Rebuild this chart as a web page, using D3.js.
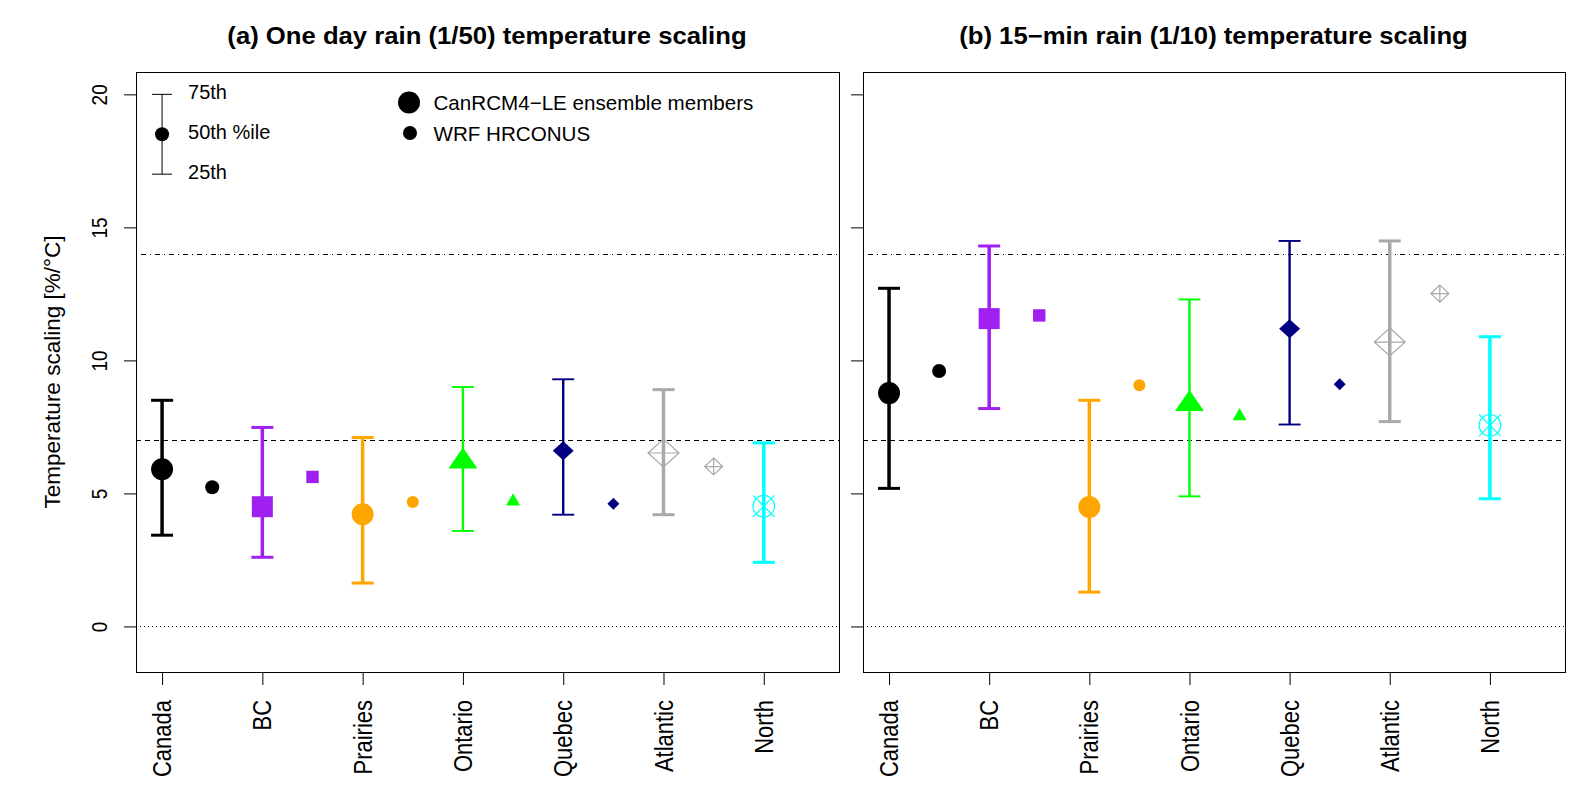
<!DOCTYPE html>
<html><head><meta charset="utf-8">
<script src="https://cdn.jsdelivr.net/npm/d3@7"></script>
<style>
body{margin:0;background:#fff}
svg{display:block}
text{font-family:"Liberation Sans",Arial,Helvetica,sans-serif;fill:#000}
</style>
</head><body>
<svg id="c" width="1592" height="801"></svg>
<script>
// ---------- data ----------
const categories = ["Canada","BC","Prairies","Ontario","Quebec","Atlantic","North"];
// panel (a) One day rain (1/50)
const p25A = [3.43, 2.60, 1.63, 3.59, 4.20, 4.20, 2.41];
const p50A = [5.91, 4.50, 4.22, 6.20, 6.60, 6.52, 4.52];
const p75A = [8.50, 7.48, 7.10, 9.00, 9.29, 8.90, 6.90];
const wrfA = [5.23, 5.62, 4.68, 4.70, 4.61, 6.01, null];
// panel (b) 15-min rain (1/10)
const p25B = [5.19, 8.19, 1.29, 4.89, 7.59, 7.70, 4.80];
const p50B = [8.77, 11.57, 4.49, 8.36, 11.19, 10.69, 7.56];
const p75B = [12.71, 14.30, 8.50, 12.29, 14.49, 14.49, 10.89];
const wrfB = [9.60, 11.69, 9.07, 7.90, 9.10, 12.51, null];
const yTicks = [0, 5, 10, 15, 20];
const refLines = [0, 7, 14];
const titles = ["(a) One day rain (1/50) temperature scaling",
                "(b) 15\u2212min rain (1/10) temperature scaling"];
const yLabel = "Temperature scaling [%/\u00B0C]";
const legendPct = ["75th", "50th %ile", "25th"];
const legendPctVals = [20, 18.5, 17];
const legendModels = ["CanRCM4\u2212LE ensemble members", "WRF HRCONUS"];

// ---------- style ----------
const colors = ["#000000","#A020F0","#FFA500","#00FF00","#000080","#A9A9A9","#00FFFF"];
const shapes = ["circle19","square","circle16","triangle","diamond","diamondPlus","circleX"];
const lineW  = [3.5, 3.5, 3.5, 2.4, 2.4, 3.5, 3.5];
const refDash = ["1,3", "5,4", "1,4,5,4"];

const svg = d3.select("#c");
const panels = [
  {left:136, right:840, top:72, bottom:673, p25:p25A, p50:p50A, p75:p75A, wrf:wrfA},
  {left:863, right:1566, top:72, bottom:673, p25:p25B, p50:p50B, p75:p75B, wrf:wrfB}
];

function drawMarker(g, shape, cx, cy, big, color){
  const s = g.append("g").attr("transform", `translate(${cx},${cy})`);
  if (shape === "circle19" || shape === "circle16"){
    const r = big ? 11 : (shape === "circle19" ? 7 : 6);
    s.append("circle").attr("r", r).attr("fill", color);
  } else if (shape === "square"){
    const h = big ? 10.5 : 6.2;
    s.append("rect").attr("x",-h).attr("y",-h).attr("width",2*h).attr("height",2*h).attr("fill",color);
  } else if (shape === "triangle"){
    const w = big ? 14.5 : 7, a = big ? 14 : 8.2;
    s.append("path").attr("d", `M0,${-a}L${w},${a/2}L${-w},${a/2}Z`).attr("fill", color);
  } else if (shape === "diamond"){
    const w = big ? 10.5 : 6, h = big ? 9.5 : 6;
    s.append("path").attr("d", `M0,${-h}L${w},0L0,${h}L${-w},0Z`).attr("fill", color);
  } else if (shape === "diamondPlus"){
    const w = big ? 15.5 : 9, h = big ? 14 : 8.5;
    s.append("path").attr("d", `M0,${-h}L${w},0L0,${h}L${-w},0Z M${-w},0L${w},0 M0,${-h}L0,${h}`)
      .attr("fill","none").attr("stroke", color).attr("stroke-width", 1.2);
  } else if (shape === "circleX"){
    const r = big ? 10.8 : 6;
    s.append("circle").attr("r", r).attr("fill","none").attr("stroke", color).attr("stroke-width",1.2);
    s.append("path").attr("d", `M${-r},${-r}L${r},${r}M${-r},${r}L${r},${-r}`)
      .attr("fill","none").attr("stroke", color).attr("stroke-width",1.2);
  }
}

panels.forEach((p, k) => {
  const x = d3.scaleLinear().domain([0.74, 7.76]).range([p.left, p.right]);
  const y = d3.scaleLinear().domain([-1.75, 20.84]).range([p.bottom, p.top]);
  const g = svg.append("g");

  // reference lines
  refLines.forEach((v, i) => {
    const yy = Math.round(y(v)) + 0.5;
    g.append("line").attr("x1", p.left).attr("x2", p.right)
      .attr("y1", yy).attr("y2", yy)
      .attr("stroke", "#000").attr("stroke-width", 1).attr("stroke-dasharray", refDash[i]);
  });

  // y axis
  const ya = g.append("g").attr("transform", `translate(${p.left},0)`)
    .call(d3.axisLeft(y).tickValues(yTicks).tickSize(12).tickSizeOuter(0)
      .tickFormat(k === 0 ? d3.format("d") : () => ""));
  ya.attr("font-family", null).attr("font-size", null);
  ya.select(".domain").remove();
  ya.selectAll("text").attr("x", null).attr("dy", null)
    .attr("text-anchor", "middle").attr("dominant-baseline", "central")
    .attr("transform", "translate(-37,0) scale(1.15,1) rotate(-90)")
    .style("font-size", "19px");

  // x axis
  const xa = g.append("g").attr("transform", `translate(0,${p.bottom})`)
    .call(d3.axisBottom(x).tickValues(d3.range(1, categories.length + 1)).tickSize(12).tickSizeOuter(0)
      .tickFormat(d => categories[d - 1]));
  xa.attr("font-family", null).attr("font-size", null);
  xa.select(".domain").remove();
  xa.selectAll("text").attr("y", null).attr("dy", null)
    .attr("text-anchor", "end").attr("dominant-baseline", "central")
    .attr("transform", "translate(0,27) scale(1.15,1) rotate(-90)")
    .style("font-size", "22px");

  // error bars
  categories.forEach((c, i) => {
    const cx = x(i + 1), col = colors[i], lw = lineW[i];
    g.append("line").attr("x1", cx).attr("x2", cx).attr("y1", y(p.p25[i])).attr("y2", y(p.p75[i]))
      .attr("stroke", col).attr("stroke-width", lw);
    [p.p25[i], p.p75[i]].forEach(v => {
      g.append("line").attr("x1", cx - 11).attr("x2", cx + 11).attr("y1", y(v)).attr("y2", y(v))
        .attr("stroke", col).attr("stroke-width", lw - 0.5);
    });
    drawMarker(g, shapes[i], cx, y(p.p50[i]), true, col);
    if (p.wrf[i] !== null) drawMarker(g, shapes[i], x(i + 1.5), y(p.wrf[i]), false, col);
  });

  // frame
  g.append("rect").attr("x", p.left + 0.5).attr("y", p.top + 0.5)
    .attr("width", p.right - p.left - 1).attr("height", p.bottom - p.top - 1)
    .attr("fill", "none").attr("stroke", "#000").attr("stroke-width", 1);

  // title
  const tc = (p.left + p.right) / 2 - 1;
  svg.append("text").attr("x", tc).attr("y", 36)
    .attr("text-anchor", "middle").attr("dominant-baseline", "central")
    .style("font-size", "24px").style("font-weight", "bold")
    .attr("transform", `translate(${tc},0) scale(1.07,1) translate(${-tc},0)`)
    .text(titles[k]);

  if (k === 0){
    // percentile legend
    const lx = x(1);
    g.append("line").attr("x1", lx).attr("x2", lx).attr("y1", y(legendPctVals[0])).attr("y2", y(legendPctVals[2]))
      .attr("stroke", "#000").attr("stroke-width", 1);
    [legendPctVals[0], legendPctVals[2]].forEach(v => {
      g.append("line").attr("x1", lx - 10).attr("x2", lx + 10).attr("y1", y(v)).attr("y2", y(v))
        .attr("stroke", "#000").attr("stroke-width", 1);
    });
    g.append("circle").attr("cx", lx).attr("cy", y(legendPctVals[1])).attr("r", 7).attr("fill", "#000");
    legendPct.forEach((t, i) => {
      g.append("text").attr("x", lx + 26).attr("y", y(legendPctVals[i]) - 2)
        .attr("dominant-baseline", "central").style("font-size", "20px").text(t);
    });
    // model legend
    const mx = p.left + 273, my = [102.5, 133];
    g.append("circle").attr("cx", mx).attr("cy", my[0]).attr("r", 11).attr("fill", "#000");
    g.append("circle").attr("cx", mx + 1).attr("cy", my[1]).attr("r", 7).attr("fill", "#000");
    legendModels.forEach((t, i) => {
      g.append("text").attr("x", mx + 24.5).attr("y", my[i])
        .attr("dominant-baseline", "central").style("font-size", "20.6px").text(t);
    });
  }
});

// y axis title
svg.append("text").attr("text-anchor", "middle").attr("dominant-baseline", "central")
  .attr("transform", "translate(52,372) rotate(-90)")
  .style("font-size", "22.5px").text(yLabel);
</script>
</body></html>
